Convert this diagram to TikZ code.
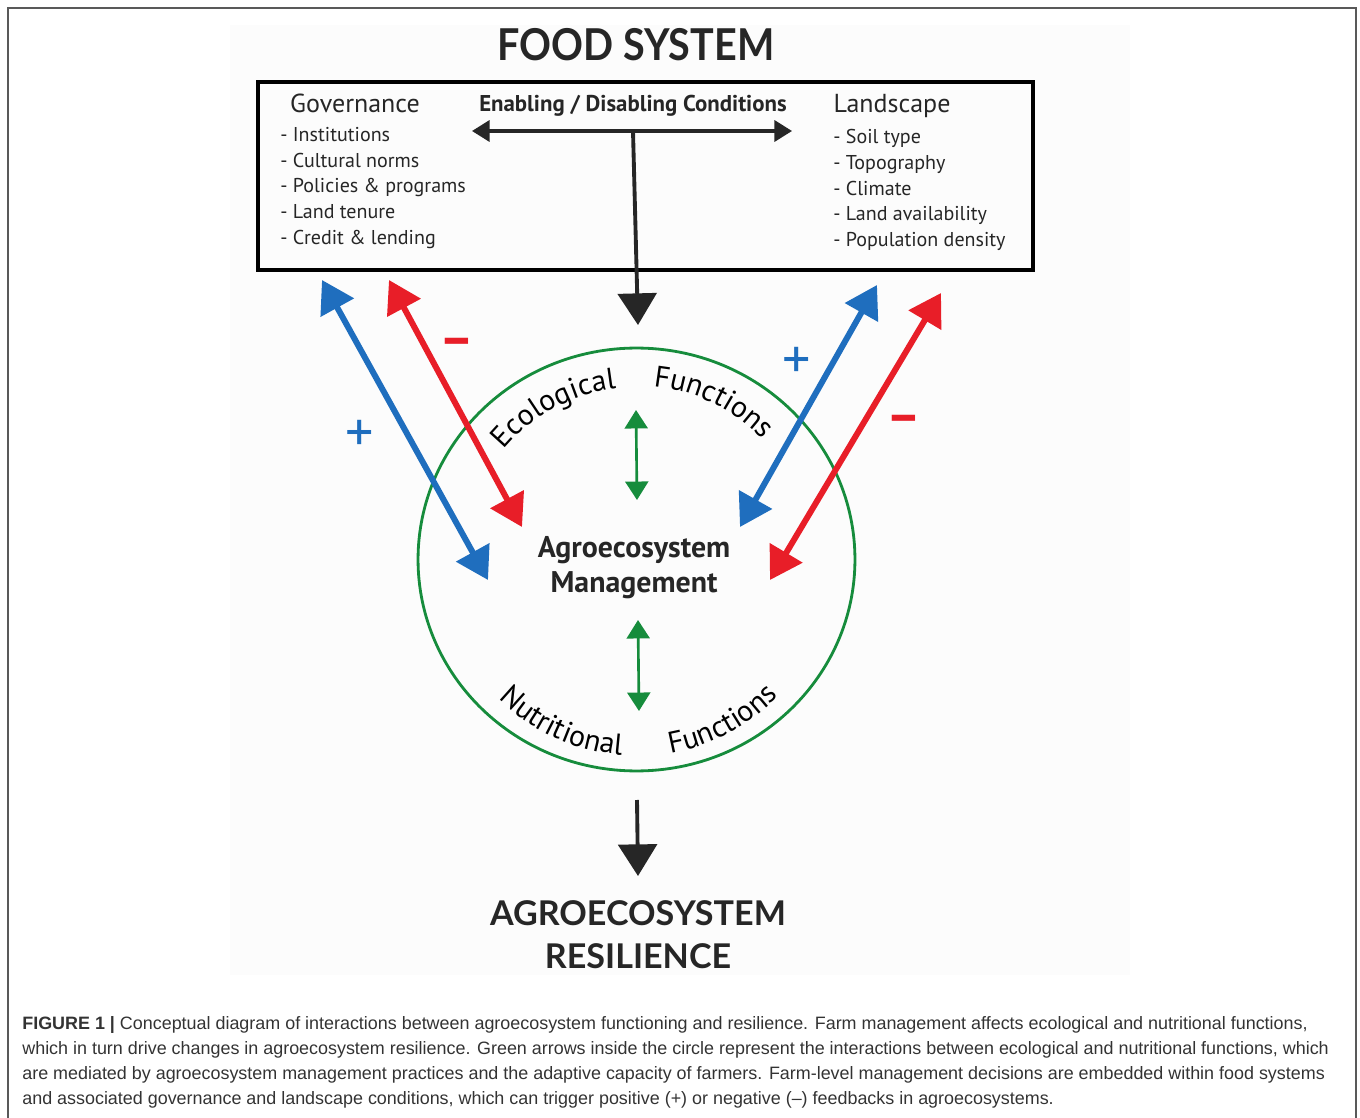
\documentclass[tikz,border=0pt]{standalone}
\usepackage{fontspec}
\setmainfont{PT Sans}
\newfontfamily\titlefont[FakeStretch=0.9]{Lato}
\newfontfamily\outfont{Lato}
\newfontfamily\capfont{Liberation Sans}
\usetikzlibrary{arrows.meta,shapes.geometric,decorations.text}

\definecolor{fbblue}{RGB}{31,110,190}
\definecolor{fbred}{RGB}{232,30,40}
\definecolor{fbgreen}{RGB}{22,140,60}

\begin{document}
\begin{tikzpicture}[x=0.02cm, y=0.02cm,
  heading/.style={font=\titlefont\bfseries\fontsize{25}{30}\selectfont, text=black!85, inner sep=0pt, align=center},
  boxhead/.style={font=\fontsize{14.8}{16}\selectfont, text=black!85, inner sep=0pt},
  boxlist/.style={font=\fontsize{11.4}{14.6}\selectfont, text=black!85, align=left, inner sep=0pt, anchor=west},
  mgmt/.style={font=\bfseries\fontsize{17}{20}\selectfont, text=black!85, align=center, inner sep=0pt},
  sign/.style={font=\fontsize{32}{32}\selectfont, inner sep=0pt},
  feedback/.style={line width=3.4pt, {Triangle[length=18pt,width=21pt]}-{Triangle[length=18pt,width=21pt]}},
  link/.style={line width=1.5pt, fbgreen, {Triangle[length=10.5pt,width=13pt]}-{Triangle[length=10.5pt,width=13pt]}},
  down/.style={line width=2.2pt, black!85, -{Triangle[length=18pt,width=22pt]}},
  arcword/.style={decorate, decoration={text along path, text align=center, text={|\fontsize{17}{20}\selectfont|#1}}}
]
\useasboundingbox (0,0) rectangle (1360,-1118);
% frame and backdrop
\draw[black!65, line width=0.9pt] (8,-1130) -- (8,-8) -- (1356,-8) -- (1356,-1130);
\fill[black!1] (230,-25) rectangle (1130,-975);

% food system box
\node[heading] (food) at (636,-45) {FOOD SYSTEM};
\node[draw, line width=1.8pt, minimum width=15.5cm, minimum height=3.76cm, inner sep=0pt] (cond) at (645.5,-176) {};
\node[boxhead] (gov) at (355,-103) {Governance};
\node[boxlist] (govlist) at (280,-188) {- Institutions\\- Cultural norms\\- Policies \& programs\\- Land tenure\\- Credit \& lending};
\node[boxhead] (land) at (892,-106) {Landscape};
\node[boxlist] (landlist) at (833,-190) {- Soil type\\- Topography\\- Climate\\- Land availability\\- Population density};
\node[font=\bfseries\fontsize{13}{15}\selectfont, text=black!85, inner sep=0pt] (enable) at (633,-106) {Enabling / Disabling Conditions};

\coordinate (hl) at (472,-131);
\coordinate (hr) at (792,-131);
\coordinate (hm) at (633,-131);
\coordinate (tipin) at (638,-325);
\draw[line width=1.8pt, black!85, {Triangle[length=10pt,width=12pt]}-{Triangle[length=10pt,width=12pt]}] (hl) -- (hr);
\draw[down] (hm) -- (tipin);

% management circle
\node[ellipse, draw=fbgreen, line width=1.6pt, minimum width=8.74cm, minimum height=8.46cm, inner sep=0pt] (ring) at (636.5,-559.5) {};
\node[mgmt] (mgmt) at (634,-568) {Agroecosystem\\Management};
\path[arcword=Ecological] (ring.center) ++(150:172) arc[start angle=150, end angle=87, radius=172];
\path[arcword=Functions] (ring.center) ++(96:174) arc[start angle=96, end angle=32, radius=174];
\path[arcword=Nutritional] (ring.center) ++(214:196) arc[start angle=214, end angle=277, radius=196];
\path[arcword=Functions] (ring.center) ++(267:197) arc[start angle=267, end angle=329, radius=197];

\coordinate (eco1) at (636,-410);
\coordinate (eco2) at (637,-500);
\coordinate (nut1) at (638,-620);
\coordinate (nut2) at (639,-711);
\draw[link] (eco1) -- (eco2);
\draw[link] (nut1) -- (nut2);

% feedbacks
\coordinate (bl1) at (322,-280);
\coordinate (bl2) at (488,-580);
\coordinate (rl1) at (389,-280);
\coordinate (rl2) at (522,-527);
\coordinate (br1) at (877,-285);
\coordinate (br2) at (740,-527);
\coordinate (rr1) at (941,-293);
\coordinate (rr2) at (770,-580);
\draw[feedback, fbblue] (bl1) -- (bl2);
\draw[feedback, fbred] (rl1) -- (rl2);
\draw[feedback, fbblue] (br1) -- (br2);
\draw[feedback, fbred] (rr1) -- (rr2);
\node[sign, text=fbblue] (plusl) at (360,-436) {+};
\node[sign, font=\bfseries\fontsize{30}{30}\selectfont, text=fbred] (minusl) at (457,-347) {\textendash};
\node[sign, text=fbblue] (plusr) at (797,-363) {+};
\node[sign, font=\bfseries\fontsize{30}{30}\selectfont, text=fbred] (minusr) at (904,-424) {\textendash};

% outcome
\coordinate (out1) at (637,-800);
\coordinate (out2) at (638,-876);
\draw[down] (out1) -- (out2);
\node[heading, font=\outfont\bfseries\fontsize{19.4}{24.4}\selectfont] (resil) at (638,-935) {AGROECOSYSTEM\\RESILIENCE};

% caption
\node[anchor=north west, inner sep=0pt, align=left, text=black!80, font=\capfont\fontsize{10.2}{14.2}\selectfont] (caption) at (22,-1016)
{\textbf{FIGURE 1 |} Conceptual diagram of interactions between agroecosystem functioning and resilience. Farm management affects ecological and nutritional functions,\\
which in turn drive changes in agroecosystem resilience. Green arrows inside the circle represent the interactions between ecological and nutritional functions, which\\
are mediated by agroecosystem management practices and the adaptive capacity of farmers. Farm-level management decisions are embedded within food systems\\
and associated governance and landscape conditions, which can trigger positive (+) or negative (\textendash) feedbacks in agroecosystems.};
\end{tikzpicture}
\end{document}
